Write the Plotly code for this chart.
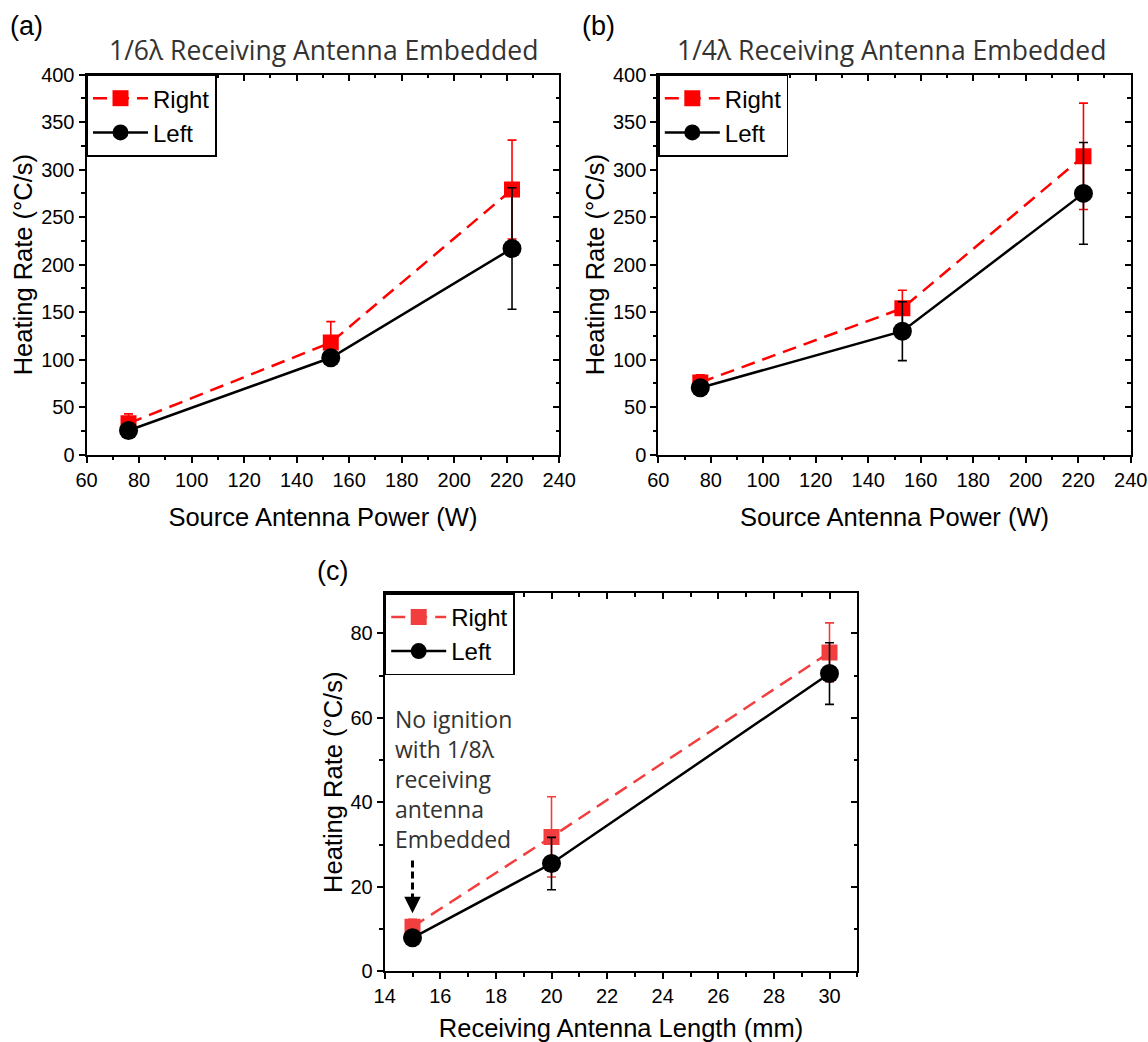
import plotly.graph_objects as go

# ---------------- data ----------------
power = [76, 153, 222]                 # Source Antenna Power (W)
a_right = [33, 118, 279]
a_right_err = [10, 22, 52]
a_left = [25.5, 102, 217]
a_left_err = [3, 6, 64]

b_right = [76, 154, 314]
b_right_err = [8, 19, 56]
b_left = [70.5, 130, 275]
b_left_err = [2, 31, 53.5]

length = [15, 20, 30]                  # Receiving Antenna Length (mm)
c_right = [10.5, 31.8, 75.5]
c_right_err = [1.8, 9.5, 7]
c_left = [7.9, 25.5, 70.5]
c_left_err = [0.5, 6.2, 7.3]

series_names = ["Right", "Left"]
titles = ["1/6λ Receiving Antenna Embedded", "1/4λ Receiving Antenna Embedded"]
panel_labels = ["(a)", "(b)", "(c)"]
x_titles = ["Source Antenna Power (W)", "Source Antenna Power (W)", "Receiving Antenna Length (mm)"]
y_title = "Heating Rate (°C/s)"
note_text = "No ignition<br>with 1/8λ<br>receiving<br>antenna<br>Embedded"

# ---------------- style ----------------
W, H = 1148, 1042
ARIAL = "Arial, 'Liberation Sans', sans-serif"
CJK = "'Open Sans', 'Noto Sans CJK SC', sans-serif"
RED = "#FF0000"
RED_C = "#F23E3E"
TXT_GRAY = "#333333"

A_X = [86.5 / W, 559.3 / W]
B_X = [658.3 / W, 1130.7 / W]
AB_Y = [1 - 454.7 / H, 1 - 74.6 / H]
C_X = [384.7 / W, 857.3 / W]
C_Y = [1 - 971.2 / H, 1 - 593.3 / H]

fig = go.Figure()


def add_pair(xs, r, re, l, le, n, legend, red):
    xa = "x" if n == 1 else f"x{n}"
    ya = "y" if n == 1 else f"y{n}"
    fig.add_trace(go.Scatter(
        x=xs, y=r, name=series_names[0], mode="lines+markers",
        line=dict(color=red, width=2.5, dash="14px,8px"),
        marker=dict(symbol="square", size=16, color=red),
        error_y=dict(type="data", array=re, visible=True, color=red, thickness=1.6, width=4.5),
        xaxis=xa, yaxis=ya, legend=legend))
    fig.add_trace(go.Scatter(
        x=xs, y=l, name=series_names[1], mode="lines+markers",
        line=dict(color="black", width=2.5),
        marker=dict(symbol="circle", size=19, color="black"),
        error_y=dict(type="data", array=le, visible=True, color="black", thickness=1.6, width=4.5),
        xaxis=xa, yaxis=ya, legend=legend))


add_pair(power, a_right, a_right_err, a_left, a_left_err, 1, "legend", RED)
add_pair(power, b_right, b_right_err, b_left, b_left_err, 2, "legend2", RED)
add_pair(length, c_right, c_right_err, c_left, c_left_err, 3, "legend3", RED_C)

# empty helper traces so that the mirrored (top / right) frame axes are drawn
for xa, ya in [("x4", "y"), ("x", "y4"), ("x5", "y2"), ("x2", "y5"), ("x6", "y3"), ("x3", "y6")]:
    fig.add_trace(go.Scatter(x=[], y=[], xaxis=xa, yaxis=ya, showlegend=False,
                             hoverinfo="skip", mode="markers"))

tickfont = dict(family=ARIAL, size=20, color="black")
titlefont = dict(family=ARIAL, size=25.5, color="black")


def main_x(domain, rng, dtick, minor_dtick, anchor, title):
    return dict(domain=domain, range=rng, anchor=anchor, dtick=dtick, tick0=0,
                ticks="outside", ticklen=6, tickwidth=1.8, tickcolor="black",
                minor=dict(dtick=minor_dtick, ticks="outside", ticklen=3.5, tickwidth=1.5, tickcolor="black"),
                showline=True, linewidth=2, linecolor="black", mirror=False,
                showgrid=False, zeroline=False, tickfont=tickfont, automargin=False,
                title=dict(text=title, font=titlefont, standoff=18))


def main_y(domain, rng, dtick, minor_dtick, anchor, title):
    return dict(domain=domain, range=rng, anchor=anchor, dtick=dtick, tick0=0,
                ticks="outside", ticklen=6, tickwidth=1.8, tickcolor="black",
                minor=dict(dtick=minor_dtick, ticks="outside", ticklen=3.5, tickwidth=1.5, tickcolor="black"),
                showline=True, linewidth=2, linecolor="black", mirror=False,
                showgrid=False, zeroline=False, tickfont=tickfont, automargin=False,
                title=dict(text=title, font=titlefont, standoff=1))


def mirror_axis(over, anchor, side, rng, dtick, minor_dtick):
    return dict(overlaying=over, anchor=anchor, side=side, range=rng, dtick=dtick, tick0=0,
                ticks="inside", ticklen=6, tickwidth=1.8, tickcolor="black",
                minor=dict(dtick=minor_dtick, ticks="inside", ticklen=3.5, tickwidth=1.5, tickcolor="black"),
                showline=True, linewidth=2, linecolor="black", showticklabels=False,
                showgrid=False, zeroline=False, automargin=False)


layout = dict(
    width=W, height=H, margin=dict(l=0, r=0, t=0, b=0),
    paper_bgcolor="white", plot_bgcolor="white", showlegend=True,
    xaxis=main_x(A_X, [60, 240], 20, 10, "y", x_titles[0]),
    yaxis=main_y(AB_Y, [0, 400], 50, 25, "x", y_title),
    xaxis2=main_x(B_X, [60, 240], 20, 10, "y2", x_titles[1]),
    yaxis2=main_y(AB_Y, [0, 400], 50, 25, "x2", y_title),
    xaxis3=main_x(C_X, [14, 31], 2, 1, "y3", x_titles[2]),
    yaxis3=main_y(C_Y, [0, 89.5], 20, 10, "x3", y_title),
    xaxis4=mirror_axis("x", "y", "top", [60, 240], 20, 10),
    yaxis4=mirror_axis("y", "x", "right", [0, 400], 50, 25),
    xaxis5=mirror_axis("x2", "y2", "top", [60, 240], 20, 10),
    yaxis5=mirror_axis("y2", "x2", "right", [0, 400], 50, 25),
    xaxis6=mirror_axis("x3", "y3", "top", [14, 31], 2, 1),
    yaxis6=mirror_axis("y3", "x3", "right", [0, 89.5], 20, 10),
)


def legend_at(x, y):
    return dict(x=x, y=y, xanchor="left", yanchor="top", xref="paper", yref="paper",
                bgcolor="white", bordercolor="black", borderwidth=1.5,
                font=dict(family=ARIAL, size=24, color="black"),
                itemwidth=55, tracegroupgap=0, traceorder="normal")


layout["legend"] = legend_at(A_X[0], AB_Y[1])
layout["legend2"] = legend_at(B_X[0], AB_Y[1])
layout["legend3"] = legend_at(C_X[0], C_Y[1])

fig.update_layout(**layout)

# titles and panel labels
fig.add_annotation(text=titles[0], x=323 / W, y=1 - 50 / H, xref="paper", yref="paper",
                   showarrow=False, xanchor="center", yanchor="middle",
                   font=dict(family=CJK, size=26.5, color=TXT_GRAY))
fig.add_annotation(text=titles[1], x=891 / W, y=1 - 50 / H, xref="paper", yref="paper",
                   showarrow=False, xanchor="center", yanchor="middle",
                   font=dict(family=CJK, size=26.5, color=TXT_GRAY))
for lab, px, py in zip(panel_labels, [26, 598, 332], [26, 26, 571]):
    fig.add_annotation(text=lab, x=px / W, y=1 - py / H, xref="paper", yref="paper",
                       showarrow=False, xanchor="center", yanchor="middle",
                       font=dict(family=ARIAL, size=27, color="black"))

# note in panel (c)
fig.add_annotation(text=note_text, x=393 / W, y=1 - 779 / H, xref="paper", yref="paper",
                   showarrow=False, xanchor="left", yanchor="middle", align="left",
                   font=dict(family=CJK, size=23, color=TXT_GRAY))

# dashed arrow pointing to the 15 mm point
fig.add_shape(type="line", xref="x3", yref="y3", x0=length[0], x1=length[0], y0=26.2, y1=16.5,
              line=dict(color="black", width=3, dash="7px,4px"))
fig.add_annotation(x=length[0], y=13.7, ax=length[0], ay=16.8, xref="x3", yref="y3",
                   axref="x3", ayref="y3", text="", showarrow=True,
                   arrowhead=2, arrowsize=1.1, arrowwidth=3, arrowcolor="black")

fig.write_html("out.html")
